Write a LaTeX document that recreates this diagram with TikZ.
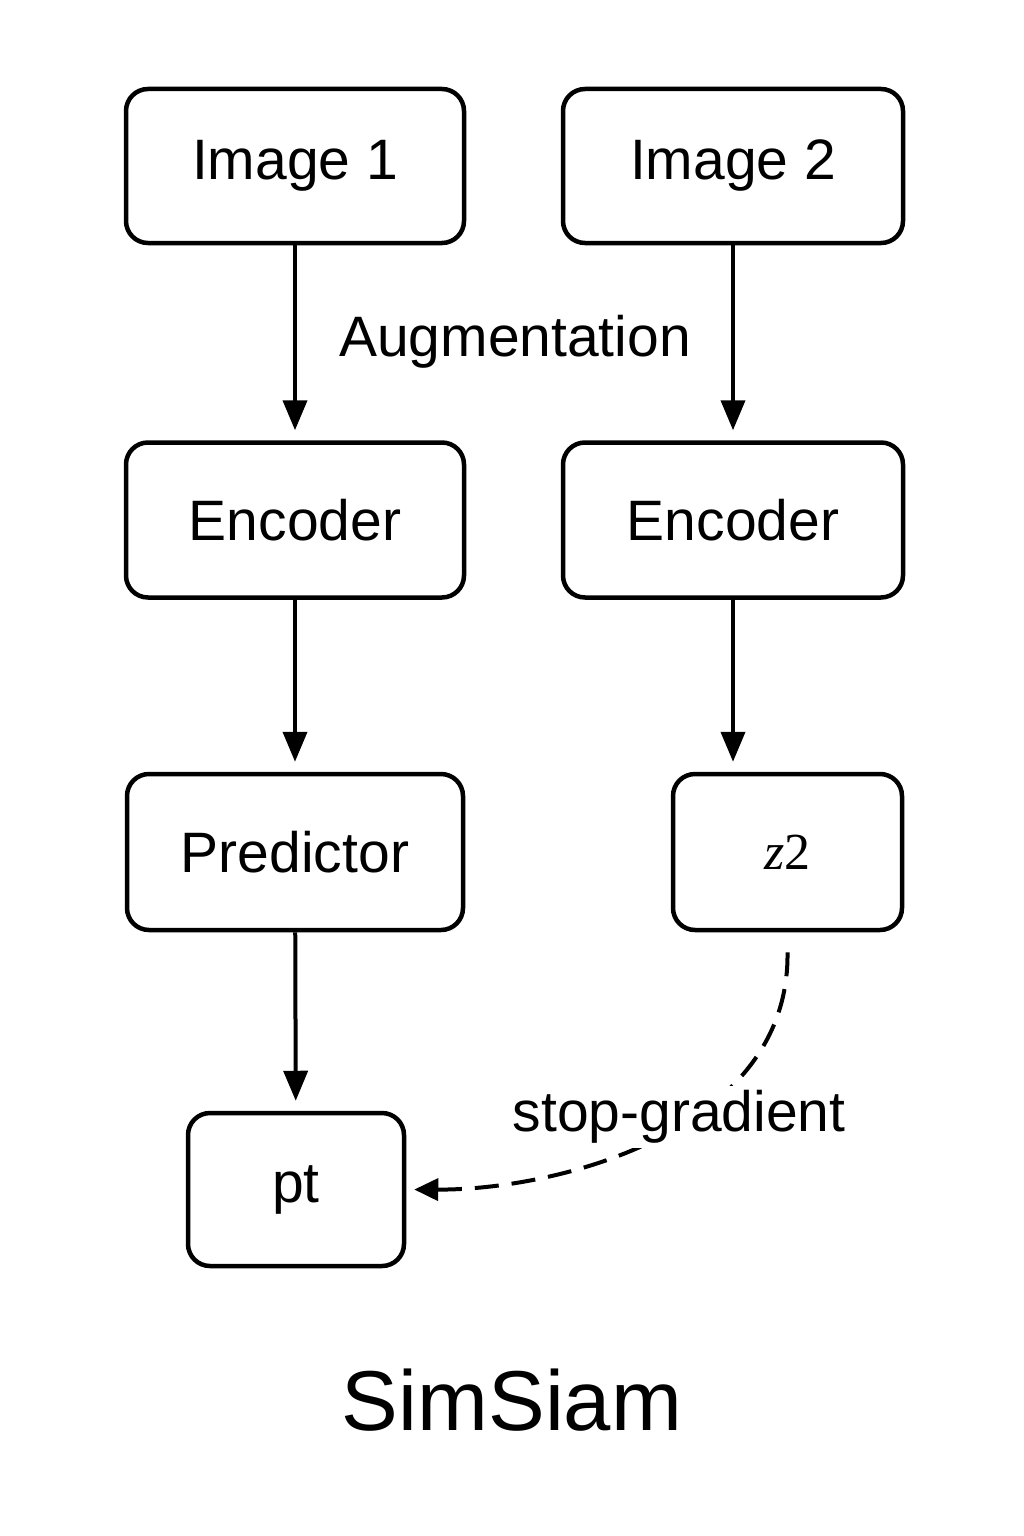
\documentclass[tikz,border=0pt]{standalone}
\usepackage{fontspec}
\setmainfont{Liberation Sans}
\newfontfamily\zfont{Liberation Serif}
\usetikzlibrary{arrows.meta}
\begin{document}
\begin{tikzpicture}[x=1pt,y=1pt,
  box/.style={draw=black,line width=4.5pt,rounded corners=22pt,inner sep=0pt,fill=white,
    font=\fontsize{57}{68}\selectfont},
  flow/.style={line width=4pt,-{Triangle[length=30pt,width=24pt]},shorten >=10pt},
  lbl/.style={font=\fontsize{57}{68}\selectfont,inner sep=4pt}]
\useasboundingbox (0,0) rectangle (1024,-1536);
\fill[white] (0,0) rectangle (1024,-1536);
\node[box,minimum width=338pt,minimum height=154pt] (img1) at (295,-166) {\raisebox{-5pt}{Image 1}};
\node[box,minimum width=340pt,minimum height=154pt] (img2) at (733,-166) {\raisebox{-5pt}{Image 2}};
\node[box,minimum width=338pt,minimum height=155pt] (enc1) at (295,-520) {Encoder};
\node[box,minimum width=340pt,minimum height=155pt] (enc2) at (733,-520) {Encoder};
\node[box,minimum width=336pt,minimum height=156pt] (pred) at (295,-852) {Predictor};
\node[box,minimum width=229pt,minimum height=156pt] (z2) at (787.5,-852) {\zfont\fontsize{52}{60}\selectfont\itshape z\upshape 2};
\node[box,minimum width=216pt,minimum height=153pt] (pt) at (296,-1189.5) {pt};
\draw[flow] (img1) -- (enc1);
\draw[flow] (img2) -- (enc2);
\draw[flow] (enc1) -- (pred);
\draw[flow] (enc2.south) -- (enc2.south |- z2.north);
\draw[flow] (pred) -- (pt);
\node[lbl] (aug) at (515,-342) {Augmentation};
\coordinate (zs) at ([yshift=-20pt]z2.south);
\draw[line width=4pt,dash pattern=on 24pt off 13pt,-{Triangle[length=24pt,width=22pt]},shorten >=8pt]
  (zs) .. controls (790,-1130) and (560,-1190) .. (pt.east);
\node[lbl,fill=white] (sg) at (679,-1117) {stop-gradient};
\node[font=\fontsize{85}{100}\selectfont] (title) at (512,-1400) {SimSiam};
\end{tikzpicture}
\end{document}
